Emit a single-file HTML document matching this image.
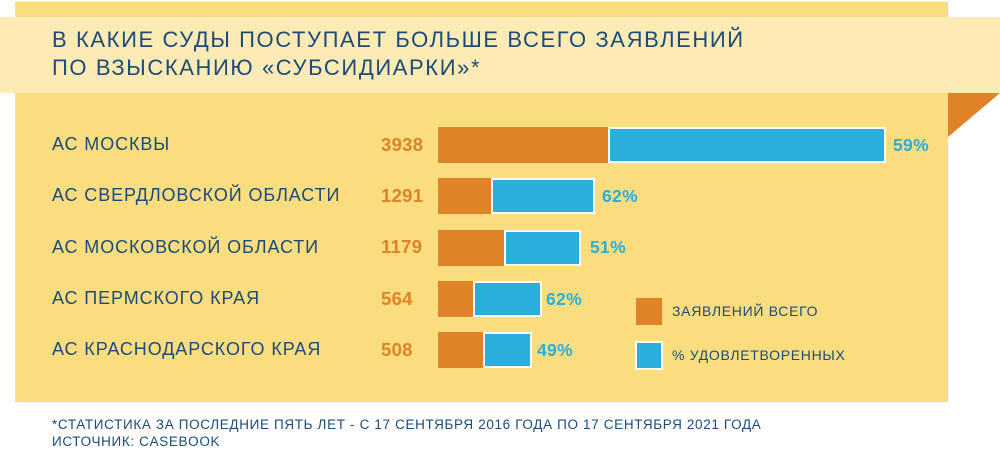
<!DOCTYPE html>
<html><head><meta charset="utf-8"><style>
body{margin:0;width:1000px;height:461px;background:#fff;position:relative;overflow:hidden;font-family:"Liberation Sans",sans-serif;}
div{position:absolute;white-space:nowrap;}
.panel{left:15px;top:2px;width:933px;height:400px;background:#fadd7f;}
.band{left:0;top:17px;width:1000px;height:76px;background:#fdebb5;}
.title{left:52px;top:26px;font-size:22px;line-height:28px;color:#1d4a78;letter-spacing:1.6px;}
.lab{left:52px;font-size:18px;color:#1d4a78;letter-spacing:0.9px;}
.num{left:381px;font-size:18.5px;font-weight:bold;color:#e08228;letter-spacing:0.3px;}
.pct{font-size:17.5px;font-weight:bold;color:#2aaedc;letter-spacing:0.3px;}
.o{background:#e08228;height:36px;}
.b{background:#2aaedc;height:32px;border:2px solid #fff;}
.leg{font-size:14px;color:#1d4a78;left:672px;letter-spacing:0.7px;}
.foot{left:52px;font-size:13.5px;color:#1d4a78;line-height:17px;top:416px;letter-spacing:0.65px;}
</style></head><body>
<div class="panel"></div>
<div class="band"></div>
<svg style="position:absolute;left:948px;top:93px" width="52" height="45"><polygon points="0,0 52,0 0,44" fill="#e08228"/></svg>
<div class="title">В КАКИЕ СУДЫ ПОСТУПАЕТ БОЛЬШЕ ВСЕГО ЗАЯВЛЕНИЙ<br>ПО ВЗЫСКАНИЮ «СУБСИДИАРКИ»*</div>

<div class="lab" style="top:134px">АС МОСКВЫ</div>
<div class="num" style="top:134px">3938</div>
<div class="o" style="left:438px;top:127px;width:172px"></div>
<div class="b" style="left:608px;top:127px;width:274px"></div>
<div class="pct" style="left:893px;top:135px">59%</div>

<div class="lab" style="top:185px">АС СВЕРДЛОВСКОЙ ОБЛАСТИ</div>
<div class="num" style="top:185px">1291</div>
<div class="o" style="left:438px;top:178px;width:56px"></div>
<div class="b" style="left:491px;top:178px;width:100px"></div>
<div class="pct" style="left:602px;top:186px">62%</div>

<div class="lab" style="top:237px">АС МОСКОВСКОЙ ОБЛАСТИ</div>
<div class="num" style="top:236px">1179</div>
<div class="o" style="left:438px;top:230px;width:69px"></div>
<div class="b" style="left:504px;top:230px;width:73px"></div>
<div class="pct" style="left:590px;top:237px">51%</div>

<div class="lab" style="top:288px">АС ПЕРМСКОГО КРАЯ</div>
<div class="num" style="top:288px">564</div>
<div class="o" style="left:438px;top:281px;width:38px"></div>
<div class="b" style="left:473px;top:281px;width:65px"></div>
<div class="pct" style="left:546px;top:289px">62%</div>

<div class="lab" style="top:339px">АС КРАСНОДАРСКОГО КРАЯ</div>
<div class="num" style="top:339px">508</div>
<div class="o" style="left:438px;top:332px;width:47px"></div>
<div class="b" style="left:483px;top:332px;width:45px"></div>
<div class="pct" style="left:537px;top:340px">49%</div>

<div style="left:636px;top:298px;width:26px;height:27px;background:#e08228"></div>
<div class="leg" style="top:303px">ЗАЯВЛЕНИЙ ВСЕГО</div>
<div style="left:635px;top:341px;width:24px;height:25px;background:#2aaedc;border:2px solid #fff"></div>
<div class="leg" style="top:347px">% УДОВЛЕТВОРЕННЫХ</div>

<div class="foot">*СТАТИСТИКА ЗА ПОСЛЕДНИЕ ПЯТЬ ЛЕТ - С 17 СЕНТЯБРЯ 2016 ГОДА ПО 17 СЕНТЯБРЯ 2021 ГОДА<br>ИСТОЧНИК: CASEBOOK</div>
</body></html>
